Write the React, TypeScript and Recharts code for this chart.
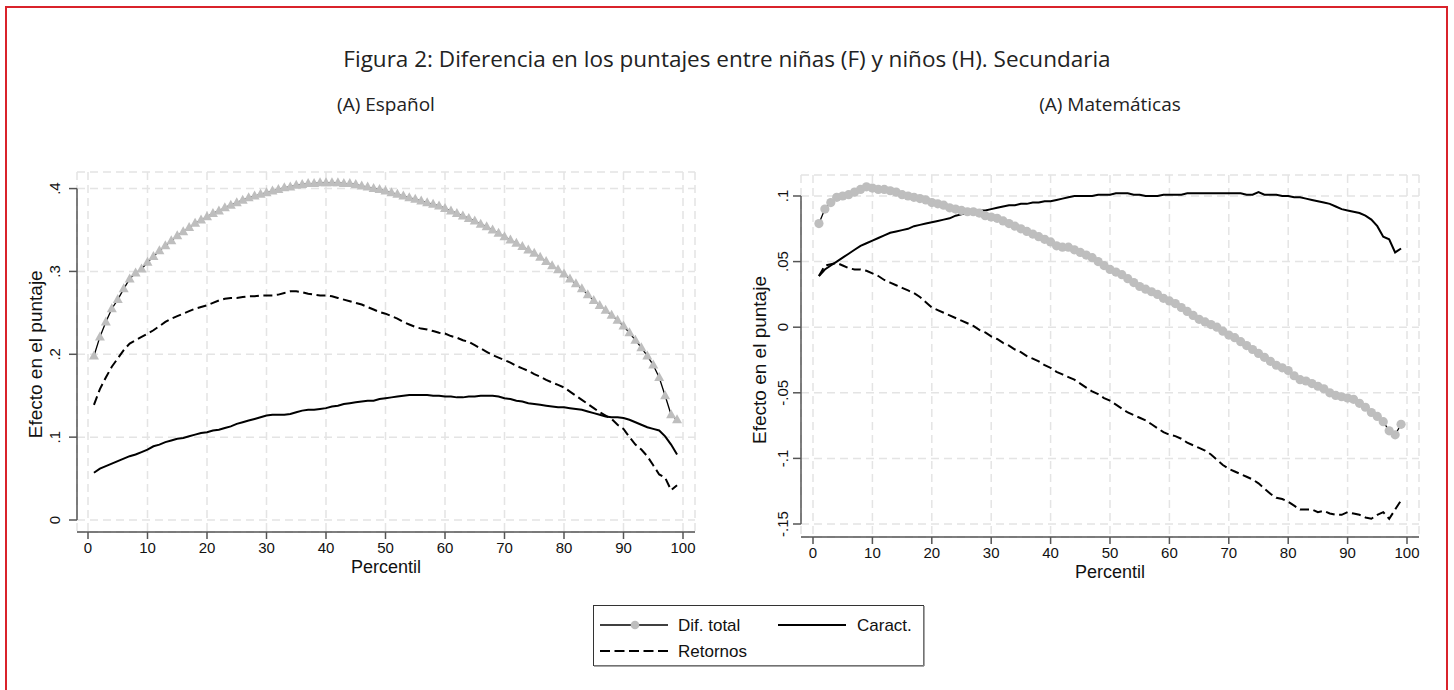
import React from "react";
import {
  CartesianGrid,
  Line,
  LineChart,
  ReferenceLine,
  XAxis,
  YAxis,
} from "recharts";

// percentiles 1..99
const percentiles = [
  1, 2, 3, 4, 5, 6, 7, 8, 9, 10, 11, 12, 13, 14, 15, 16, 17, 18, 19, 20,
  21, 22, 23, 24, 25, 26, 27, 28, 29, 30, 31, 32, 33, 34, 35, 36, 37, 38, 39, 40,
  41, 42, 43, 44, 45, 46, 47, 48, 49, 50, 51, 52, 53, 54, 55, 56, 57, 58, 59, 60,
  61, 62, 63, 64, 65, 66, 67, 68, 69, 70, 71, 72, 73, 74, 75, 76, 77, 78, 79, 80,
  81, 82, 83, 84, 85, 86, 87, 88, 89, 90, 91, 92, 93, 94, 95, 96, 97, 98, 99,
];

// (A) Español
const espDif = [
  0.198, 0.221, 0.239, 0.255, 0.266, 0.279, 0.291, 0.298, 0.303, 0.311,
  0.318, 0.325, 0.331, 0.337, 0.343, 0.348, 0.353, 0.358, 0.362, 0.366,
  0.37, 0.373, 0.377, 0.38, 0.383, 0.386, 0.389, 0.391, 0.393, 0.395,
  0.397, 0.399, 0.401, 0.402, 0.404, 0.405, 0.406, 0.406, 0.407, 0.407,
  0.407, 0.407, 0.406, 0.406, 0.405, 0.403, 0.402, 0.4, 0.399, 0.397,
  0.395, 0.393, 0.391, 0.389, 0.387, 0.385, 0.383, 0.381, 0.379, 0.376,
  0.373, 0.37, 0.367, 0.364, 0.361, 0.357, 0.354, 0.35, 0.346, 0.342,
  0.338, 0.334, 0.33, 0.326, 0.322, 0.317, 0.312, 0.307, 0.302, 0.297,
  0.291, 0.285, 0.279, 0.272, 0.265, 0.259, 0.253, 0.247, 0.241, 0.234,
  0.226, 0.217, 0.208, 0.198, 0.187, 0.172, 0.15, 0.127, 0.121,
];
const espCar = [
  0.057, 0.062, 0.065, 0.068, 0.071, 0.074, 0.077, 0.079, 0.082, 0.085,
  0.089, 0.091, 0.094, 0.096, 0.098, 0.099, 0.101, 0.103, 0.105, 0.106,
  0.108, 0.109, 0.111, 0.113, 0.116, 0.118, 0.12, 0.122, 0.124, 0.126,
  0.127, 0.127, 0.127, 0.128, 0.13, 0.132, 0.133, 0.133, 0.134, 0.135,
  0.137, 0.138, 0.14, 0.141, 0.142, 0.143, 0.144, 0.144, 0.146, 0.147,
  0.148, 0.149, 0.15, 0.151, 0.151, 0.151, 0.151, 0.15, 0.15, 0.149,
  0.149, 0.148, 0.148, 0.149, 0.149, 0.15, 0.15, 0.15, 0.149, 0.147,
  0.146, 0.144, 0.143, 0.141, 0.14, 0.139, 0.138, 0.137, 0.136, 0.136,
  0.135, 0.134, 0.133, 0.131, 0.129, 0.127, 0.125, 0.124, 0.124, 0.123,
  0.121, 0.118, 0.115, 0.112, 0.11, 0.108, 0.101, 0.091, 0.079,
];
const espRet = [
  0.139, 0.158, 0.172, 0.185, 0.195, 0.205, 0.213, 0.217, 0.221, 0.225,
  0.229, 0.234, 0.239, 0.243, 0.246, 0.249, 0.252, 0.255, 0.257, 0.259,
  0.262, 0.265, 0.267, 0.268, 0.268, 0.269, 0.27, 0.27, 0.271, 0.271,
  0.271, 0.272, 0.274, 0.276, 0.276, 0.275, 0.273, 0.272, 0.271, 0.271,
  0.27, 0.268, 0.266, 0.264, 0.262, 0.26, 0.257, 0.254, 0.251, 0.249,
  0.246, 0.243, 0.239, 0.236, 0.233, 0.231, 0.23, 0.228, 0.226, 0.225,
  0.222, 0.22, 0.217, 0.215, 0.211, 0.207, 0.203, 0.199, 0.196, 0.193,
  0.19, 0.186, 0.183, 0.18, 0.176, 0.173, 0.169, 0.166, 0.163, 0.16,
  0.155, 0.15, 0.145, 0.14, 0.135, 0.13, 0.126, 0.122, 0.115, 0.11,
  0.1, 0.091, 0.085, 0.077, 0.066, 0.055, 0.051, 0.036, 0.042,
];

// (A) Matemáticas
const matDif = [
  0.079, 0.09, 0.095, 0.099, 0.1, 0.101, 0.103, 0.105, 0.107, 0.106,
  0.105, 0.105, 0.104, 0.103, 0.101, 0.1, 0.099, 0.098, 0.097, 0.095,
  0.094, 0.093, 0.091, 0.09, 0.089, 0.088, 0.088, 0.087, 0.085, 0.084,
  0.083, 0.081, 0.079, 0.077, 0.075, 0.073, 0.071, 0.069, 0.067, 0.065,
  0.062, 0.061, 0.061, 0.059, 0.057, 0.055, 0.053, 0.05, 0.047, 0.044,
  0.042, 0.04, 0.037, 0.034, 0.031, 0.029, 0.027, 0.025, 0.022, 0.02,
  0.018, 0.015, 0.012, 0.009, 0.006, 0.004, 0.002, 0.0, -0.003, -0.006,
  -0.008, -0.011, -0.014, -0.017, -0.02, -0.023, -0.026, -0.029, -0.031, -0.033,
  -0.037, -0.04, -0.041, -0.043, -0.045, -0.047, -0.05, -0.052, -0.053, -0.054,
  -0.055, -0.058, -0.061, -0.065, -0.068, -0.072, -0.079, -0.082, -0.074,
];
const matCar = [
  0.039, 0.044, 0.047, 0.05, 0.053, 0.056, 0.059, 0.062, 0.064, 0.066,
  0.068, 0.07, 0.072, 0.073, 0.074, 0.075, 0.077, 0.078, 0.079, 0.08,
  0.081, 0.082, 0.083, 0.085, 0.086, 0.087, 0.088, 0.089, 0.089, 0.09,
  0.091, 0.092, 0.093, 0.093, 0.094, 0.094, 0.095, 0.095, 0.096, 0.096,
  0.097, 0.098, 0.099, 0.1, 0.1, 0.1, 0.1, 0.101, 0.101, 0.101,
  0.102, 0.102, 0.102, 0.101, 0.101, 0.1, 0.1, 0.1, 0.101, 0.101,
  0.101, 0.101, 0.102, 0.102, 0.102, 0.102, 0.102, 0.102, 0.102, 0.102,
  0.102, 0.102, 0.101, 0.101, 0.103, 0.101, 0.101, 0.101, 0.1, 0.1,
  0.099, 0.099, 0.098, 0.097, 0.096, 0.095, 0.094, 0.092, 0.09, 0.089,
  0.088, 0.087, 0.085, 0.082, 0.077, 0.069, 0.067, 0.057, 0.06,
];
const matRet = [
  0.039, 0.047, 0.048, 0.049, 0.047, 0.045, 0.044, 0.044, 0.043, 0.041,
  0.039, 0.036, 0.034, 0.032, 0.03, 0.028, 0.026, 0.023, 0.019, 0.015,
  0.013, 0.011, 0.009, 0.007, 0.005, 0.003, 0.001, -0.002, -0.004, -0.007,
  -0.009, -0.012, -0.014, -0.017, -0.019, -0.022, -0.024, -0.026, -0.029, -0.031,
  -0.034, -0.036, -0.038, -0.04, -0.043, -0.046, -0.049, -0.051, -0.054, -0.056,
  -0.059, -0.062, -0.065, -0.067, -0.069, -0.071, -0.074, -0.077, -0.08, -0.082,
  -0.083, -0.085, -0.088, -0.09, -0.092, -0.094, -0.097, -0.101, -0.105, -0.108,
  -0.11, -0.112, -0.114, -0.116, -0.119, -0.123, -0.127, -0.13, -0.131, -0.133,
  -0.136, -0.139, -0.139, -0.139, -0.141, -0.14, -0.142, -0.143, -0.143, -0.141,
  -0.142, -0.143, -0.145, -0.146, -0.143, -0.141, -0.146, -0.139, -0.132,
];

const xTicks = [0, 10, 20, 30, 40, 50, 60, 70, 80, 90, 100];
const espTicks = [0, 0.1, 0.2, 0.3, 0.4];
const matTicks = [-0.15, -0.1, -0.05, 0, 0.05, 0.1];
// value range shown up to the top of the plot region (above the last tick)
const espTop = 0.42;
const matTop = 0.116;

const seriesNames = { dif: "Dif. total", car: "Caract.", ret: "Retornos" };

const espData = percentiles.map((p, i) => ({ p, dif: espDif[i], car: espCar[i], ret: espRet[i] }));
const matData = percentiles.map((p, i) => ({ p, dif: matDif[i], car: matCar[i], ret: matRet[i] }));

const AXIS_FONT = '"Liberation Sans", Arial, sans-serif';
const TITLE_FONT = '"Open Sans", "Noto Sans", sans-serif';
const GREY = "#bebebe";
const AXIS = "#555";

const fmt = (v: number) => {
  if (v === 0) return "0";
  return String(v).replace("0.", ".");
};

const Triangle = (props: any) => {
  const { cx, cy } = props;
  if (cx == null || cy == null) return null;
  return (
    <polygon
      points={`${cx},${cy - 5.5} ${cx - 5},${cy + 3.5} ${cx + 5},${cy + 3.5}`}
      fill={GREY}
    />
  );
};

const YTick = (props: any) => {
  const { x, y, payload } = props;
  return (
    <text
      x={x}
      y={y}
      transform={`rotate(-90 ${x} ${y})`}
      textAnchor="middle"
      fontSize={15}
      fontFamily={AXIS_FONT}
      fill="#111"
    >
      {fmt(payload.value)}
    </text>
  );
};

interface PanelProps {
  offsetLeft: number;
  plotL: number;
  plotR: number;
  plotT: number;
  plotB: number;
  pad: { l: number; r: number; b: number };
  data: any[];
  yTicks: number[];
  yTop: number;
  marker: "triangle" | "circle";
  yTickMargin: number;
}

const W = 727;
const H = 600;
const X_AXIS_H = 50;

const Panel = ({ offsetLeft, plotL, plotR, plotT, plotB, pad, data, yTicks, yTop, marker, yTickMargin }: PanelProps) => {
  const yMin = yTicks[0];
  const yMax = yTicks[yTicks.length - 1];
  // data x where the y axis line sits (left edge of plot area)
  const axisX = -pad.l / ((plotR - plotL - pad.l - pad.r) / 100);
  const yAxisW = plotL - offsetLeft;
  // vertical centre of the tick range, for the axis title
  const pxPerUnit = (plotB - plotT - pad.b) / (yTop - yMin);
  const tickMid = plotB - pad.b - ((yMin + yMax) / 2 - yMin) * pxPerUnit;

  return (
    <div style={{ position: "absolute", left: offsetLeft, top: 0 }}>
      <LineChart
        width={W}
        height={H}
        data={data}
        margin={{ top: plotT, right: offsetLeft + W - plotR, left: 0, bottom: H - plotB - X_AXIS_H }}
      >
        <CartesianGrid stroke="#e4e4e4" strokeWidth={1.5} strokeDasharray="8 5" />
        <XAxis
          dataKey="p"
          type="number"
          domain={[0, 100]}
          ticks={xTicks}
          height={X_AXIS_H}
          padding={{ left: pad.l, right: pad.r }}
          axisLine={{ stroke: AXIS, strokeWidth: 1.5 }}
          tickLine={{ stroke: AXIS, strokeWidth: 1.5 }}
          tickSize={7}
          tickMargin={3}
          tick={{ fontSize: 15, fill: "#111", fontFamily: AXIS_FONT }}
          label={{
            content: (lp: any) => {
              const vb = lp.viewBox;
              return (
                <text
                  x={vb.x + vb.width / 2}
                  y={vb.y + 41}
                  textAnchor="middle"
                  fontSize={18}
                  fontFamily={AXIS_FONT}
                  fill="#111"
                >
                  Percentil
                </text>
              );
            },
          }}
        />
        <YAxis
          type="number"
          domain={[yMin, yTop]}
          ticks={yTicks}
          width={yAxisW}
          padding={{ top: 0, bottom: pad.b }}
          axisLine={false}
          tickLine={{ stroke: AXIS, strokeWidth: 1.5 }}
          tickSize={8}
          tickMargin={yTickMargin}
          tick={YTick}
          label={{
            content: (lp: any) => {
              const vb = lp.viewBox;
              const cx = vb.x + vb.width - 35;
              const cy = tickMid;
              return (
                <text
                  x={cx}
                  y={cy}
                  transform={`rotate(-90 ${cx} ${cy})`}
                  textAnchor="middle"
                  fontSize={19}
                  fontFamily={AXIS_FONT}
                  fill="#111"
                >
                  Efecto en el puntaje
                </text>
              );
            },
          }}
        />
        <ReferenceLine
          segment={[
            { x: axisX, y: yMin },
            { x: axisX, y: yMax },
          ]}
          stroke={AXIS}
          strokeWidth={1.5}
          ifOverflow="visible"
        />
        <Line
          dataKey="dif"
          name={seriesNames.dif}
          stroke="#000"
          strokeWidth={1.3}
          isAnimationActive={false}
          activeDot={false}
          dot={
            marker === "triangle"
              ? (dp: any) => <Triangle key={`t${dp.index}`} {...dp} />
              : { r: 4.6, fill: GREY, stroke: GREY, strokeWidth: 0 }
          }
        />
        <Line
          dataKey="car"
          name={seriesNames.car}
          stroke="#000"
          strokeWidth={2}
          dot={false}
          activeDot={false}
          isAnimationActive={false}
        />
        <Line
          dataKey="ret"
          name={seriesNames.ret}
          stroke="#000"
          strokeWidth={2}
          strokeDasharray="9 4.5"
          dot={false}
          activeDot={false}
          isAnimationActive={false}
        />
      </LineChart>
    </div>
  );
};

const Legend = () => (
  <svg
    width={331}
    height={61}
    style={{ position: "absolute", left: 593, top: 605, overflow: "visible" }}
  >
    <rect x={0.5} y={0.5} width={330} height={60} fill="#fff" stroke="#333" strokeWidth={1} />
    <line x1={331} y1={1} x2={331} y2={61} stroke="#888" strokeWidth={1.5} />
    <line x1={1} y1={61} x2={331} y2={61} stroke="#888" strokeWidth={1.5} />
    <line x1={7} y1={20} x2={75} y2={20} stroke="#000" strokeWidth={1.3} />
    <circle cx={42} cy={20} r={4.3} fill={GREY} />
    <text x={85} y={26} fontSize={17} fontFamily={AXIS_FONT} fill="#111">
      {seriesNames.dif}
    </text>
    <line x1={185} y1={20} x2={253} y2={20} stroke="#000" strokeWidth={2} />
    <text x={264} y={26} fontSize={17} fontFamily={AXIS_FONT} fill="#111">
      {seriesNames.car}
    </text>
    <line x1={7} y1={46} x2={75} y2={46} stroke="#000" strokeWidth={2} strokeDasharray="10 4.5" />
    <text x={85} y={52} fontSize={17} fontFamily={AXIS_FONT} fill="#111">
      {seriesNames.ret}
    </text>
  </svg>
);

export default function App() {
  return (
    <div
      style={{
        position: "relative",
        width: 1454,
        height: 690,
        overflow: "hidden",
        background: "#fff",
      }}
    >
      <style>{`body{margin:0}`}</style>
      <div
        style={{
          position: "absolute",
          left: 5,
          top: 6,
          width: 1443,
          height: 720,
          boxSizing: "border-box",
          border: "2px solid #d9232b",
          borderBottom: "none",
        }}
      />
      <svg width={1454} height={160} style={{ position: "absolute", left: 0, top: 0 }}>
        <text x={727} y={67} textAnchor="middle" fontSize={22.5} fontFamily={TITLE_FONT} fill="#222">
          Figura 2: Diferencia en los puntajes entre niñas (F) y niños (H). Secundaria
        </text>
        <text x={386} y={111} textAnchor="middle" fontSize={19} fontFamily={TITLE_FONT} fill="#222">
          (A) Español
        </text>
        <text x={1110} y={111} textAnchor="middle" fontSize={19} fontFamily={TITLE_FONT} fill="#222">
          (A) Matemáticas
        </text>
      </svg>
      <Panel
        offsetLeft={0}
        plotL={77}
        plotR={695}
        plotT={172}
        plotB={532}
        pad={{ l: 11, r: 12, b: 12 }}
        data={espData}
        yTicks={espTicks}
        yTop={espTop}
        marker="triangle"
        yTickMargin={9}
      />
      <Panel
        offsetLeft={727}
        plotL={801}
        plotR={1419}
        plotT={175}
        plotB={537}
        pad={{ l: 12, r: 12, b: 13 }}
        data={matData}
        yTicks={matTicks}
        yTop={matTop}
        marker="circle"
        yTickMargin={5}
      />
      <Legend />
    </div>
  );
}
